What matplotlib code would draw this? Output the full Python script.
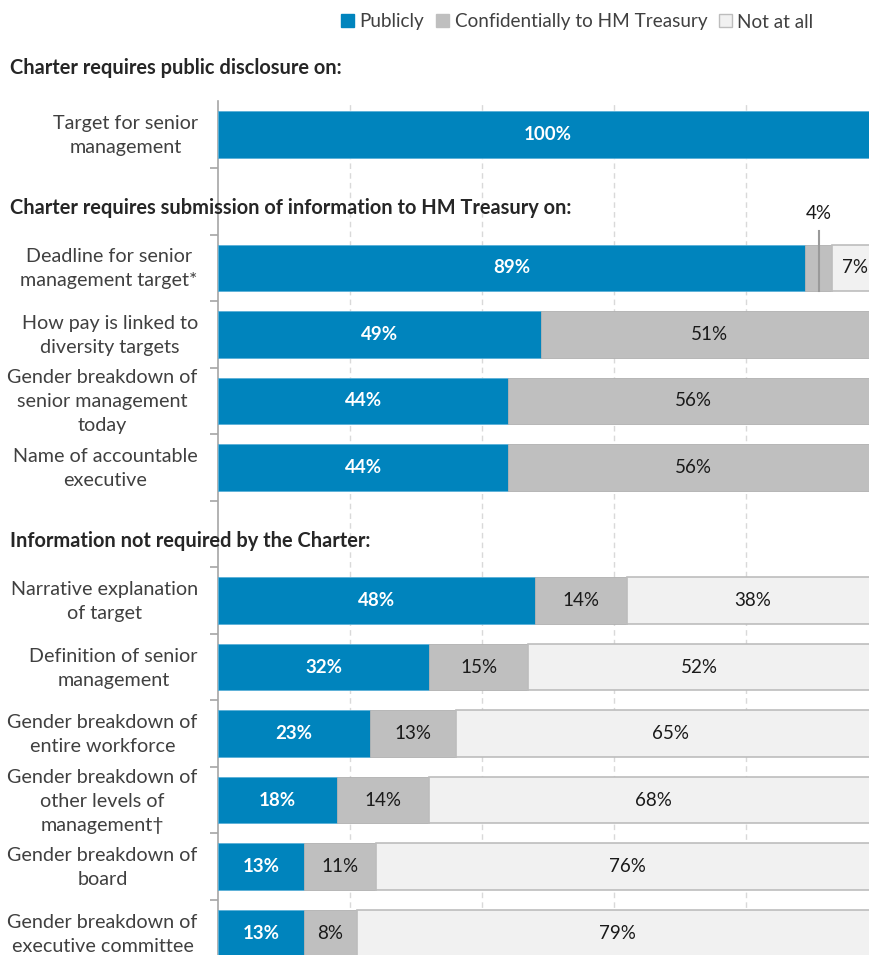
import matplotlib
matplotlib.use("Agg")
import matplotlib.pyplot as plt
from matplotlib.patches import Patch
import matplotlib.transforms as mtransforms

plt.rcParams['font.family'] = ['Lato', 'DejaVu Sans']

headers = ["Charter requires public disclosure on:",
           "Charter requires submission of information to HM Treasury on:",
           "Information not required by the Charter:"]
header_slots = [0, 2, 7]

categories = ["Target for senior\nmanagement",
              "Deadline for senior\nmanagement target*",
              "How pay is linked to\ndiversity targets",
              "Gender breakdown of\nsenior management\ntoday",
              "Name of accountable\nexecutive",
              "Narrative explanation\nof target",
              "Definition of senior\nmanagement",
              "Gender breakdown of\nentire workforce",
              "Gender breakdown of\nother levels of\nmanagement\u2020",
              "Gender breakdown of\nboard",
              "Gender breakdown of\nexecutive committee"]
cat_slots = [1, 3, 4, 5, 6, 8, 9, 10, 11, 12, 13]

publicly = [100, 89, 49, 44, 44, 48, 32, 23, 18, 13, 13]
confidential = [0, 4, 51, 56, 56, 14, 15, 13, 14, 11, 8]
not_at_all = [0, 7, 0, 0, 0, 38, 52, 65, 68, 76, 79]

series_names = ["Publicly", "Confidentially to HM Treasury", "Not at all"]

BLUE = "#0084BD"
GREY = "#BFBFBF"
LIGHT = "#F1F1F1"
TXT = "#404040"

W, H = 870, 955
fig = plt.figure(figsize=(W / 100, H / 100), dpi=100)
ax = fig.add_axes([218 / W, -11.5 / H, 660 / W, 865 / H])

bh = 0.7
left2 = [p for p in publicly]
left3 = [p + c for p, c in zip(publicly, confidential)]
ax.barh(cat_slots, publicly, height=bh, color=BLUE, edgecolor="#5ab0d8", linewidth=0.6, zorder=3)
ax.barh(cat_slots, confidential, left=left2, height=bh, color=GREY, edgecolor="#b0b0b0", linewidth=0.6, zorder=3)
ax.barh(cat_slots, not_at_all, left=left3, height=bh, color=LIGHT, edgecolor="#bdbdbd", linewidth=1.2, zorder=3)

fs_val = 13.5
for s, p, c, n, l2, l3 in zip(cat_slots, publicly, confidential, not_at_all, left2, left3):
    if p > 0:
        ax.text(p / 2, s, f"{p}%", ha="center", va="center", color="white",
                fontsize=fs_val, fontweight="bold", zorder=5)
    if c > 0:
        if c >= 8:
            ax.text(l2 + c / 2, s, f"{c}%", ha="center", va="center", color="#1a1a1a",
                    fontsize=fs_val, zorder=5)
        else:
            xm = l2 + c / 2
            ax.plot([xm, xm], [s + bh / 2, s - 0.55], color="#9a9a9a", lw=1.5, zorder=6,
                    clip_on=False)
            ax.text(xm, s - 0.82, f"{c}%", ha="center", va="center", color="#1a1a1a",
                    fontsize=fs_val, zorder=5, clip_on=False)
    if n > 0:
        ax.text(l3 + n / 2, s, f"{n}%", ha="center", va="center", color="#1a1a1a",
                fontsize=fs_val, zorder=5)

ax.set_xlim(0, 100)
ax.set_ylim(13.5, 0.5)
ax.set_xticks([20, 40, 60, 80])
ax.xaxis.grid(True, linestyle=(0, (4, 3)), color="#d9d9d9", lw=1, zorder=0)
ax.tick_params(axis="x", length=0, labelbottom=False)
for sp in ["top", "right", "bottom"]:
    ax.spines[sp].set_visible(False)
ax.spines["left"].set_color("#a6a6a6")
ax.spines["left"].set_linewidth(1.2)

ax.set_yticks(cat_slots)
ax.set_yticklabels(categories, fontsize=14.2, color=TXT, ha="right",
                   multialignment="center", linespacing=1.5)
ax.tick_params(axis="y", length=0, pad=14.5)
shift = mtransforms.ScaledTranslation(0, 4 / 100, fig.dpi_scale_trans)
for lab in ax.get_yticklabels():
    lab.set_transform(lab.get_transform() + shift)
ax.set_yticks([x + 0.5 for x in range(1, 14)], minor=True)
ax.tick_params(axis="y", which="minor", length=6, color="#a6a6a6", width=1.2)

trans = mtransforms.blended_transform_factory(fig.transFigure, ax.transData)
header_dy = [0, 0.1, 0.1]
for h, s, dy in zip(headers, header_slots, header_dy):
    ax.text(10 / W, s + dy, h, transform=trans, ha="left", va="center", fontsize=14.4,
            fontweight="bold", color="#262626", clip_on=False, zorder=7)

handles = [Patch(facecolor=BLUE, edgecolor=BLUE),
           Patch(facecolor=GREY, edgecolor=GREY),
           Patch(facecolor=LIGHT, edgecolor="#bdbdbd")]
leg = fig.legend(handles, series_names, loc="center right", bbox_to_anchor=(823 / W, 1 - 22 / H),
                 ncol=3, frameon=False, fontsize=13.6, handlelength=0.7, handleheight=0.7,
                 handletextpad=0.3, columnspacing=0.6, borderpad=0)
for t in leg.get_texts():
    t.set_color(TXT)

fig.savefig("out.png", dpi=100)
